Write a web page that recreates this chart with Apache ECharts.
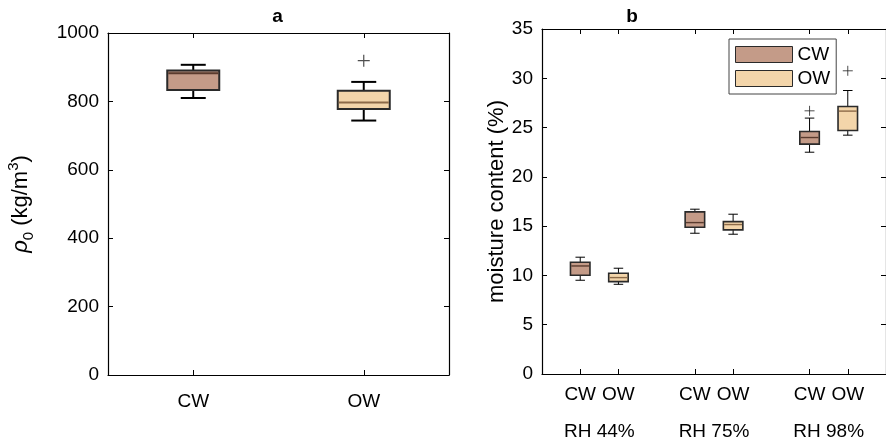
<!DOCTYPE html>
<html>
<head>
<meta charset="utf-8">
<script src="https://cdn.jsdelivr.net/npm/echarts@6/dist/echarts.min.js"></script>
<style>
html,body{margin:0;padding:0;background:#fff;}
#chart{width:886px;height:442px;}
</style>
</head>
<body>
<div id="chart"></div>
<script>
// ---- Panel a data: density (kg/m3) ----
const aCategories = ['CW', 'OW'];
// [min, Q1, median, Q3, max]
const aCW = [810, 833, 882, 890, 907];
const aOW = [744, 778, 797, 831, 857];
const aOutliers = [[1, 919]];           // [category index, value]

// ---- Panel b data: moisture content (%) ----
const bPositions = ['0', '1', '2', '3', '4', '5', '6', '7', '8', '9'];
const bTickLabels = ['', 'CW', 'OW', '', 'CW', 'OW', '', 'CW', 'OW', ''];
const bGroups = ['', 'RH 44%', '', '', 'RH 75%', '', '', 'RH 98%', ''];
const bCWpos = [1, 4, 7];
const bOWpos = [2, 5, 8];
const bCW44 = [9.51, 10.02, 10.96, 11.34, 11.85];
const bCW75 = [14.28, 14.89, 15.36, 16.45, 16.72];
const bCW98 = [22.5, 23.32, 23.99, 24.6, 25.96];
const bOW44 = [9.1, 9.37, 9.78, 10.22, 10.73];
const bOW75 = [14.18, 14.62, 15.16, 15.46, 16.21];
const bOW98 = [24.23, 24.7, 26.67, 27.14, 28.76];
const bOutliersCW = [[7, 26.7]];
const bOutliersOW = [[8, 30.76]];

const colCW = '#c49b88';
const colOW = '#f3d5aa';
const medCW = '#5a3b2e';
const medOW = '#8c6a48';
const edge = '#2a2a2a';
const FONT = 'Liberation Sans';

function boxRender(o) {
  return function (params, api) {
    const x = api.value(0);
    const lo = api.coord([x, api.value(1)]);
    const q1 = api.coord([x, api.value(2)]);
    const md = api.coord([x, api.value(3)]);
    const q3 = api.coord([x, api.value(4)]);
    const hi = api.coord([x, api.value(5)]);
    const cx = lo[0];
    const hw = o.boxW / 2, cw = o.capW / 2;
    const fill = o.fills[params.dataIndex % o.fills.length];
    const med = o.meds[params.dataIndex % o.meds.length];
    const ls = { stroke: '#000', lineWidth: o.wl };
    return {
      type: 'group',
      children: [
        { type: 'line', shape: { x1: cx, y1: hi[1], x2: cx, y2: q3[1] }, style: ls },
        { type: 'line', shape: { x1: cx, y1: q1[1], x2: cx, y2: lo[1] }, style: ls },
        { type: 'line', shape: { x1: cx - cw, y1: hi[1], x2: cx + cw, y2: hi[1] }, style: ls },
        { type: 'line', shape: { x1: cx - cw, y1: lo[1], x2: cx + cw, y2: lo[1] }, style: ls },
        { type: 'rect', shape: { x: cx - hw, y: q3[1], width: 2 * hw, height: q1[1] - q3[1] },
          style: { fill: fill, stroke: edge, lineWidth: o.bl } },
        { type: 'line', shape: { x1: cx - hw + o.bl / 2, y1: md[1], x2: cx + hw - o.bl / 2, y2: md[1] },
          style: { stroke: med, lineWidth: o.ml } }
      ]
    };
  };
}

const plusPath = 'path://M5,0L5,10M0,5L10,5';
const tickStyle = { show: true, inside: true, length: 5, lineStyle: { color: '#000', width: 1 } };
const lineStyle = { show: true, onZero: false, lineStyle: { color: '#000', width: 1.2 } };
const labelStyle = { color: '#000', fontSize: 19, fontFamily: FONT };
const plainNum = function (v) { return String(v); };

const chart = echarts.init(document.getElementById('chart'), null, { renderer: 'canvas' });
chart.setOption({
  animation: false,
  backgroundColor: '#fff',
  textStyle: { fontFamily: FONT },
  graphic: [
    { type: 'text', x: 277.5, y: 17, style: { text: 'a', fontSize: 19, fontWeight: 'bold', fontFamily: FONT, fill: '#000', align: 'center', verticalAlign: 'middle' } },
    { type: 'text', x: 632, y: 17, style: { text: 'b', fontSize: 19, fontWeight: 'bold', fontFamily: FONT, fill: '#000', align: 'center', verticalAlign: 'middle' } }
  ],
  legend: {
    data: ['CW', 'OW'],
    orient: 'vertical',
    left: 729, top: 39,
    padding: [6, 6, 6, 6],
    itemGap: 5,
    itemWidth: 57, itemHeight: 16,
    icon: 'rect',
    borderColor: '#444', borderWidth: 1,
    backgroundColor: '#fff',
    itemStyle: { borderColor: edge, borderWidth: 1 },
    textStyle: { fontSize: 19, fontFamily: FONT, color: '#000', lineHeight: 16, padding: [0, 0, 0, 0] },
    selectedMode: false
  },
  grid: [
    { left: 108, top: 33, width: 341, height: 342, containLabel: false },
    { left: 542, top: 29, width: 346, height: 345, containLabel: false }
  ],
  xAxis: [
    { gridIndex: 0, type: 'category', data: aCategories, position: 'bottom', boundaryGap: true,
      axisLine: lineStyle, axisTick: Object.assign({}, tickStyle, { alignWithLabel: true }),
      axisLabel: Object.assign({}, labelStyle, { margin: 17 }), splitLine: { show: false } },
    { gridIndex: 0, type: 'category', data: aCategories, position: 'top', boundaryGap: true,
      axisLine: lineStyle, axisTick: Object.assign({}, tickStyle, { alignWithLabel: true }),
      axisLabel: { show: false }, splitLine: { show: false } },
    { gridIndex: 1, type: 'category', data: bPositions, position: 'bottom', boundaryGap: false,
      axisLine: lineStyle,
      axisTick: Object.assign({}, tickStyle, { interval: function (i) { return bTickLabels[i] !== ''; } }),
      axisLabel: Object.assign({}, labelStyle, { margin: 11,
        interval: function (i) { return bTickLabels[i] !== ''; },
        formatter: function (v, i) { return bTickLabels[i]; } }),
      splitLine: { show: false } },
    { gridIndex: 1, type: 'category', data: bPositions, position: 'top', boundaryGap: false,
      axisLine: lineStyle,
      axisTick: Object.assign({}, tickStyle, { interval: function (i) { return bTickLabels[i] !== ''; } }),
      axisLabel: { show: false }, splitLine: { show: false } },
    { gridIndex: 1, type: 'category', data: bGroups, position: 'bottom', boundaryGap: true,
      axisLine: { show: false }, axisTick: { show: false },
      axisLabel: Object.assign({}, labelStyle, { margin: 48, interval: 0 }),
      splitLine: { show: false } }
  ],
  yAxis: [
    { gridIndex: 0, type: 'value', min: 0, max: 1000, interval: 200, position: 'left',
      axisLine: lineStyle, axisTick: tickStyle,
      axisLabel: Object.assign({}, labelStyle, { margin: 9, formatter: plainNum }), splitLine: { show: false },
      name: '{r|ρ}{s|0}{n| (kg/m}{p|3}{n|)}', nameLocation: 'middle', nameRotate: 90, nameGap: 72,
      nameTextStyle: { rich: {
        r: { fontSize: 22, fontStyle: 'italic', fontFamily: FONT, lineHeight: 30, color: '#000' },
        n: { fontSize: 22, fontFamily: FONT, lineHeight: 30, color: '#000' },
        s: { fontSize: 15, fontFamily: FONT, lineHeight: 15, verticalAlign: 'bottom', color: '#000' },
        p: { fontSize: 15, fontFamily: FONT, lineHeight: 15, verticalAlign: 'top', color: '#000' }
      } } },
    { gridIndex: 0, type: 'value', min: 0, max: 1000, interval: 200, position: 'right',
      axisLine: lineStyle, axisTick: tickStyle, axisLabel: { show: false }, splitLine: { show: false } },
    { gridIndex: 1, type: 'value', min: 0, max: 35, interval: 5, position: 'left',
      axisLine: lineStyle, axisTick: tickStyle,
      axisLabel: Object.assign({}, labelStyle, { margin: 9, formatter: plainNum }), splitLine: { show: false },
      name: 'moisture content (%)', nameLocation: 'middle', nameRotate: 90, nameGap: 34,
      nameTextStyle: { fontSize: 22, fontFamily: FONT, color: '#000' } },
    { gridIndex: 1, type: 'value', min: 0, max: 35, interval: 5, position: 'right',
      axisLine: lineStyle, axisTick: tickStyle, axisLabel: { show: false }, splitLine: { show: false } }
  ],
  series: [
    { name: 'density', type: 'custom', xAxisIndex: 0, yAxisIndex: 0,
      encode: { x: 0, y: [1, 2, 3, 4, 5] },
      renderItem: boxRender({ boxW: 52, capW: 25, wl: 2, bl: 2, ml: 2, fills: [colCW, colOW], meds: [medCW, medOW] }),
      data: [[0].concat(aCW), [1].concat(aOW)] },
    { name: 'a outliers', type: 'scatter', xAxisIndex: 0, yAxisIndex: 0,
      symbol: plusPath, symbolSize: 12,
      itemStyle: { color: 'rgba(0,0,0,0)', borderColor: '#222', borderWidth: 1.2 },
      data: aOutliers },
    { name: 'CW', type: 'custom', xAxisIndex: 2, yAxisIndex: 2,
      itemStyle: { color: colCW },
      encode: { x: 0, y: [1, 2, 3, 4, 5] },
      renderItem: boxRender({ boxW: 19.5, capW: 9.5, wl: 1, bl: 1.6, ml: 1.4, fills: [colCW], meds: [medCW] }),
      data: [[bCWpos[0]].concat(bCW44), [bCWpos[1]].concat(bCW75), [bCWpos[2]].concat(bCW98)] },
    { name: 'OW', type: 'custom', xAxisIndex: 2, yAxisIndex: 2,
      itemStyle: { color: colOW },
      encode: { x: 0, y: [1, 2, 3, 4, 5] },
      renderItem: boxRender({ boxW: 19.5, capW: 9.5, wl: 1, bl: 1.6, ml: 1.4, fills: [colOW], meds: [medOW] }),
      data: [[bOWpos[0]].concat(bOW44), [bOWpos[1]].concat(bOW75), [bOWpos[2]].concat(bOW98)] },
    { name: 'b outliers CW', type: 'scatter', xAxisIndex: 2, yAxisIndex: 2,
      symbol: plusPath, symbolSize: 10,
      itemStyle: { color: 'rgba(0,0,0,0)', borderColor: '#222', borderWidth: 1 },
      data: bOutliersCW },
    { name: 'b outliers OW', type: 'scatter', xAxisIndex: 2, yAxisIndex: 2,
      symbol: plusPath, symbolSize: 10,
      itemStyle: { color: 'rgba(0,0,0,0)', borderColor: '#222', borderWidth: 1 },
      data: bOutliersOW }
  ]
});
</script>
</body>
</html>
